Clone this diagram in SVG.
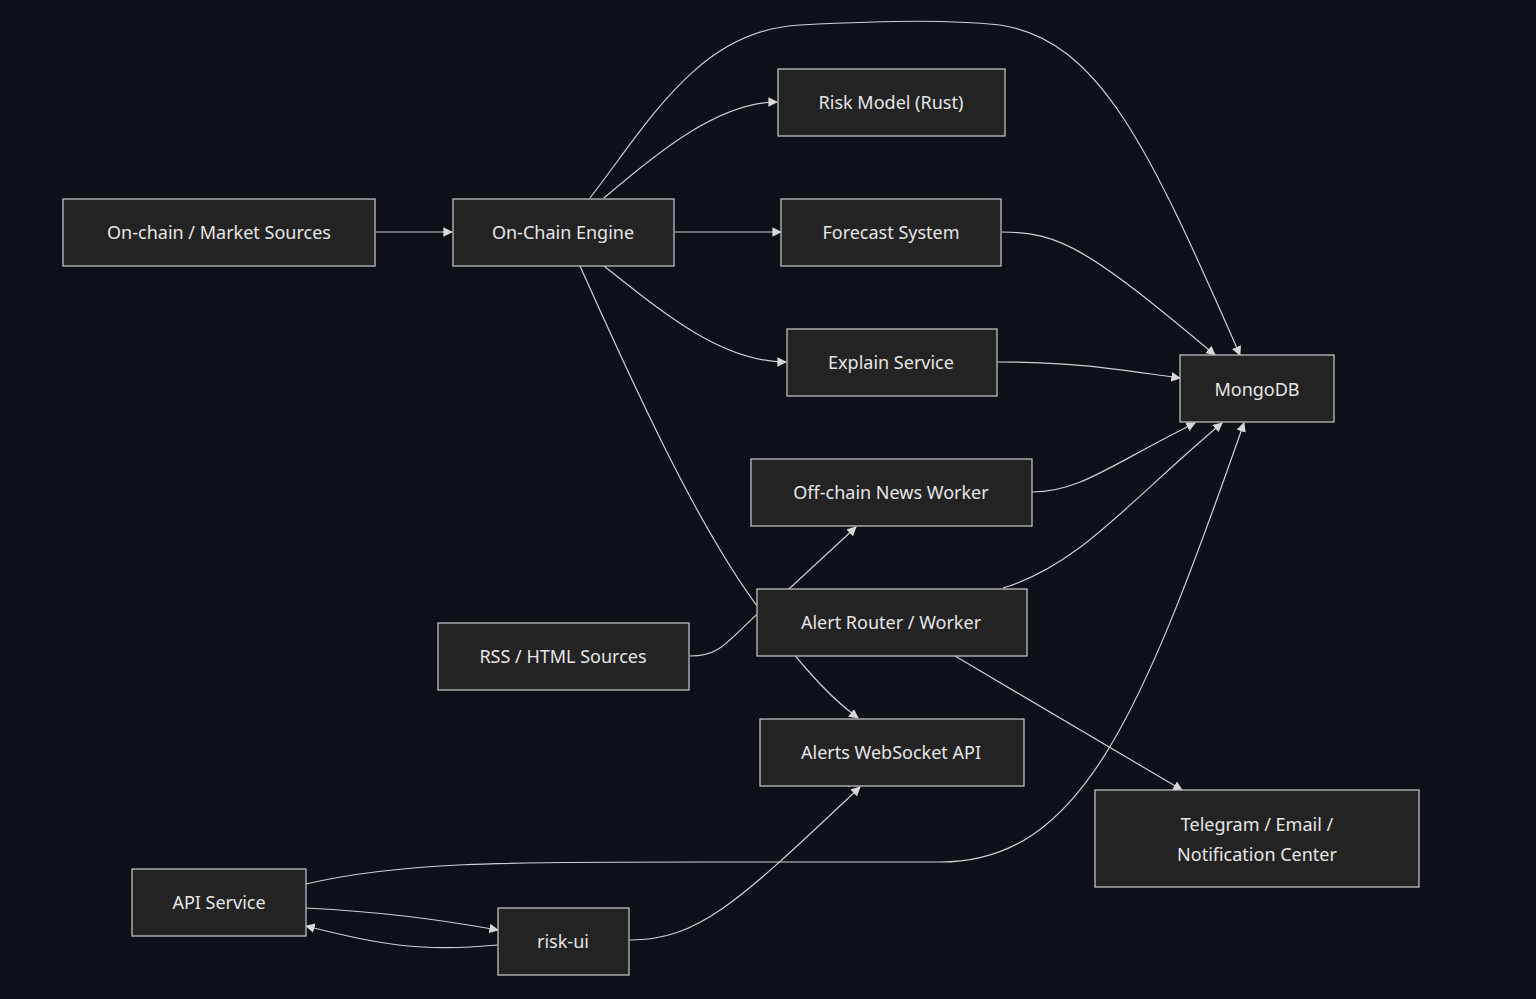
<svg xmlns="http://www.w3.org/2000/svg" width="1536" height="999" viewBox="0 0 1536 999">
<style>
.n rect{fill:#232323;stroke:#bdbdbd;stroke-width:1.3}
.n text{fill:#e6e6e6;font-family:"Noto Sans","Open Sans",sans-serif;font-size:18px;text-anchor:middle;dominant-baseline:central}
.e path{fill:none;stroke:#d0d0d0;stroke-width:1.2;marker-end:url(#a)}
</style>
<defs><marker id="a" viewBox="0 0 10 10" refX="9" refY="5" markerWidth="8" markerHeight="8" orient="auto-start-reverse"><path d="M0,0L10,5L0,10z" fill="#d8d8d8"/></marker></defs>
<rect width="1536" height="999" fill="#0d1017"/>
<g class="e">
<path d="M376,232H452"/>
<path d="M604,198C660,150 720,102 777,102"/>
<path d="M675,232H781"/>
<path d="M604,266C660,310 720,362 786,362"/>
<path d="M590,198C650,120 700,30 800,25C900,20 950,20 1000,25C1100,40 1150,150 1240,355"/>
<path d="M580,266C640,400 700,530 760,610C790,650 820,690 858,718"/>
<path d="M1002,232C1060,232 1090,250 1215,355"/>
<path d="M997,362C1080,362 1120,370 1180,378"/>
<path d="M1032,492C1080,492 1110,465 1195,423"/>
<path d="M1003,588C1080,565 1130,500 1222,423"/>
<path d="M955,656L1182,790"/>
<path d="M690,656C730,656 730,630 790,588L856,527"/>
<path d="M306,884C400,862 500,862 700,862L940,862C1080,862 1140,720 1244,423"/>
<path d="M306,908C380,912 430,918 498,930"/>
<path d="M498,945C420,952 380,945 306,926"/>
<path d="M630,940C700,940 740,900 860,787"/>
</g>
<g class="n" id="sources"><rect x="63" y="199" width="312" height="67"/><text x="219" y="232">On-chain / Market Sources</text></g>
<g class="n" id="engine"><rect x="453" y="199" width="221" height="67"/><text x="563" y="232">On-Chain Engine</text></g>
<g class="n" id="risk"><rect x="778" y="69" width="227" height="67"/><text x="891" y="102">Risk Model (Rust)</text></g>
<g class="n" id="forecast"><rect x="781" y="199" width="220" height="67"/><text x="891" y="232">Forecast System</text></g>
<g class="n" id="explain"><rect x="787" y="329" width="210" height="67"/><text x="891" y="362">Explain Service</text></g>
<g class="n" id="mongo"><rect x="1180" y="355" width="154" height="67"/><text x="1257" y="389">MongoDB</text></g>
<g class="n" id="news"><rect x="751" y="459" width="281" height="67"/><text x="891" y="492">Off-chain News Worker</text></g>
<g class="n" id="rss"><rect x="438" y="623" width="251" height="67"/><text x="563" y="656">RSS / HTML Sources</text></g>
<g class="n" id="alert"><rect x="757" y="589" width="270" height="67"/><text x="891" y="622">Alert Router / Worker</text></g>
<g class="n" id="ws"><rect x="760" y="719" width="264" height="67"/><text x="891" y="752">Alerts WebSocket API</text></g>
<g class="n" id="tg"><rect x="1095" y="790" width="324" height="97"/><text x="1257" y="824">Telegram / Email /</text><text x="1257" y="854">Notification Center</text></g>
<g class="n" id="api"><rect x="132" y="869" width="174" height="67"/><text x="219" y="902">API Service</text></g>
<g class="n" id="ui"><rect x="498" y="908" width="131" height="67"/><text x="563" y="941">risk-ui</text></g>
</svg>
